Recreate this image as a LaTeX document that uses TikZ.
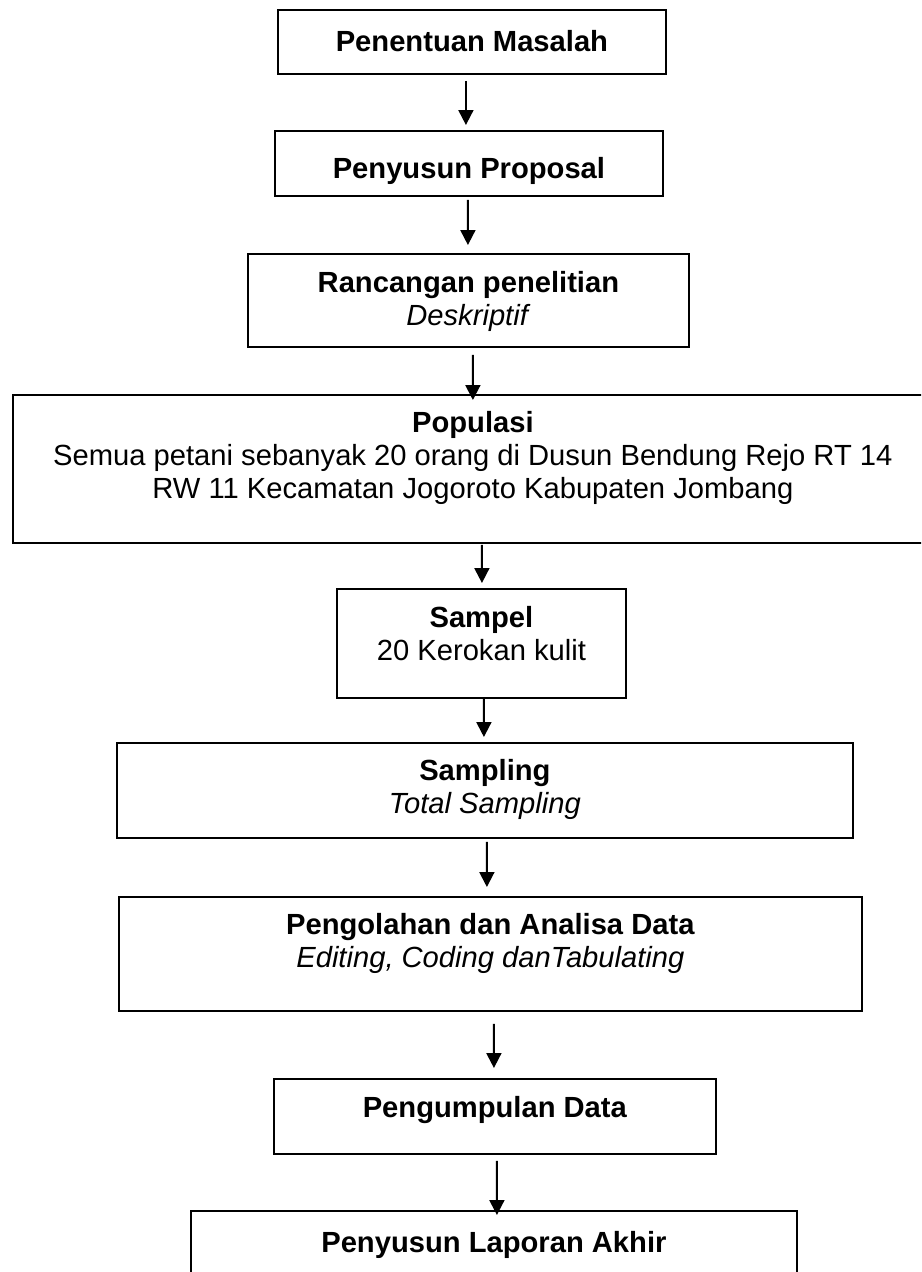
\documentclass[tikz,border=0pt]{standalone}
\usepackage{fontspec}
\setmainfont{Liberation Sans}
\usetikzlibrary{arrows.meta,positioning}
\tikzset{
	kotak/.style={draw, line width=1.1pt, inner sep=0pt, anchor=north west},
	isi/.style={inner sep=0pt, align=center, font=\fontsize{16.6}{18.7}\selectfont},
	panah/.style={line width=1.1pt, -{Triangle[length=0.3cm,width=0.3cm]}}
}
\begin{document}
\begin{tikzpicture}[x=0.02cm, y=-0.02cm]
		\useasboundingbox (0,0) rectangle (921,1272);
		\clip (0,0) rectangle (921,1272);
		% kotak
		\node[kotak, minimum width=7.76cm, minimum height=1.28cm] (masalah) at (277,9) {};
		\node[kotak, minimum width=7.76cm, minimum height=1.30cm] (proposal) at (274,130) {};
		\node[kotak, minimum width=8.82cm, minimum height=1.86cm] (rancangan) at (247,253) {};
		\node[kotak, minimum width=18.4cm, minimum height=2.96cm] (populasi) at (12,394) {};
		\node[kotak, minimum width=5.78cm, minimum height=2.18cm] (sampel) at (336,588) {};
		\node[kotak, minimum width=14.72cm, minimum height=1.90cm] (sampling) at (116,742) {};
		\node[kotak, minimum width=14.86cm, minimum height=2.28cm] (olah) at (118,896) {};
		\node[kotak, minimum width=8.84cm, minimum height=1.50cm] (kumpul) at (273,1078) {};
		\node[kotak, minimum width=12.12cm, minimum height=2.00cm] (laporan) at (190,1210) {};
		% tulisan
		\node[isi, below=0.43cm of masalah.north] (tmasalah) {\textbf{Penentuan Masalah}};
		\node[isi, below=0.55cm of proposal.north] (tproposal) {\textbf{Penyusun Proposal}};
		\node[isi, below=0.37cm of rancangan.north] (trancangan) {\textbf{Rancangan penelitian}\\\textit{Deskriptif}};
		\node[isi, below=0.35cm of populasi.north] (tpopulasi) {\textbf{Populasi}\\Semua petani sebanyak 20 orang di Dusun Bendung Rejo RT 14\\RW 11 Kecamatan Jogoroto Kabupaten Jombang};
		\node[isi, below=0.37cm of sampel.north] (tsampel) {\textbf{Sampel}\\20 Kerokan kulit};
		\node[isi, below=0.35cm of sampling.north] (tsampling) {\textbf{Sampling}\\\textit{Total Sampling}};
		\node[isi, below=0.35cm of olah.north] (tolah) {\textbf{Pengolahan dan Analisa Data}\\\textit{Editing, Coding danTabulating}};
		\node[isi, below=0.37cm of kumpul.north] (tkumpul) {\textbf{Pengumpulan Data}};
		\node[isi, below=0.43cm of laporan.north] (tlaporan) {\textbf{Penyusun Laporan Akhir}};
		% panah
		\draw[panah] ([shift={(-6,6)}]masalah.south) -- ([shift={(-3,-5)}]proposal.north);
		\draw[panah] ([shift={(-1,3)}]proposal.south) -- ([shift={(-0.5,-8)}]rancangan.north);
		\draw[panah] ([shift={(4.5,7)}]rancangan.south) -- ([shift={(0,6)}]populasi.north);
		\draw[panah] ([shift={(9,1)}]populasi.south) -- ([shift={(0.5,-5)}]sampel.north);
		\draw[panah] ([shift={(2.5,0)}]sampel.south) -- ([shift={(-1,-5)}]sampling.north);
		\draw[panah] ([shift={(2,3)}]sampling.south) -- ([shift={(-3.5,-9)}]olah.north);
		\draw[panah] ([shift={(3.5,12)}]olah.south) -- ([shift={(-1,-10)}]kumpul.north);
		\draw[panah] ([shift={(2,6)}]kumpul.south) -- ([shift={(3,5)}]laporan.north);
\end{tikzpicture}
\end{document}
